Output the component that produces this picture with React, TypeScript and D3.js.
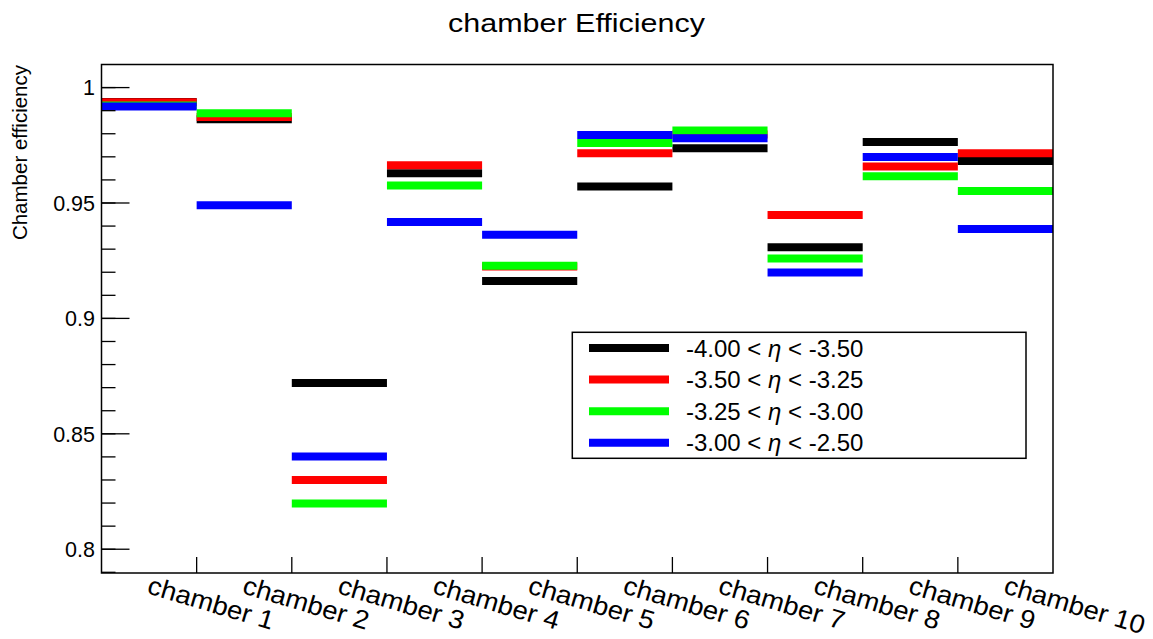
import React from "react";
import * as d3 from "d3";

const categories = ["chamber 1","chamber 2","chamber 3","chamber 4","chamber 5","chamber 6","chamber 7","chamber 8","chamber 9","chamber 10"];
const seriesNames = ["-4.00 < ", "-3.50 < ", "-3.25 < ", "-3.00 < "];
const seriesTails = [" < -3.50", " < -3.25", " < -3.00", " < -2.50"];
const seriesColors = ["#000000", "#ff0000", "#00ff00", "#0000ff"];
const blackVals = [0.9937, 0.9863, 0.8720, 0.9629, 0.9162, 0.9571, 0.9737, 0.9308, 0.9764, 0.9682];
const redVals = [0.9936, 0.9873, 0.8300, 0.9663, 0.9225, 0.9716, 0.9797, 0.9448, 0.9658, 0.9716];
const greenVals = [0.9922, 0.9889, 0.8198, 0.9576, 0.9228, 0.9760, 0.9814, 0.9259, 0.9616, 0.9552];
const blueVals = [0.9918, 0.9490, 0.8402, 0.9418, 0.9362, 0.9795, 0.9781, 0.9199, 0.9699, 0.9387];
const majorTicks = [0.8, 0.85, 0.9, 0.95, 1.0];
const tickLabels = ["0.8", "0.85", "0.9", "0.95", "1"];

const W = 1153, H = 639;
const L = 101.5, R = 1053, T = 64.5, B = 573;
const FONT = "'Liberation Sans', Arial, Helvetica, sans-serif";

export default function App() {
  const x = d3.scaleBand<string>().domain(categories).range([L, R]).paddingInner(0).paddingOuter(0);
  const y = d3.scaleLinear().domain([0.7897, 1.01]).range([B, T]);
  const series = [blackVals, redVals, greenVals, blueVals];
  const minorTicks = d3.range(79, 101).map((v) => v / 100).filter((v) => y(v) <= B && y(v) >= T);
  const bw = x.bandwidth();
  const boundaries = categories.slice(1).map((c) => x(c) as number);

  return (
    <svg width={W} height={H} style={{ position: "absolute", left: 0, top: 0, background: "#fff" }} fontFamily={FONT}>
      <rect x={0} y={0} width={W} height={H} fill="#fff" />
      {/* title */}
      <text transform={`translate(576.5,32) scale(1.22,1)`} textAnchor="middle" fontSize={25} fill="#000">chamber Efficiency</text>
      {/* bars */}
      {series.map((vals, si) => (
        <g key={si}>
          {vals.map((v, i) => (
            <line key={i} x1={x(categories[i]) as number} x2={(x(categories[i]) as number) + bw} y1={y(v)} y2={y(v)} stroke={seriesColors[si]} strokeWidth={8} />
          ))}
        </g>
      ))}
      {/* frame */}
      <rect x={L} y={T} width={R - L} height={B - T} fill="none" stroke="#000" strokeWidth={1.5} />
      {/* y ticks */}
      {minorTicks.map((v, i) => (
        <line key={"m" + i} x1={L} x2={L + 14} y1={y(v)} y2={y(v)} stroke="#000" strokeWidth={1.3} />
      ))}
      {majorTicks.map((v, i) => (
        <g key={"M" + i}>
          <line x1={L} x2={L + 28} y1={y(v)} y2={y(v)} stroke="#000" strokeWidth={1.3} />
          <text x={95} y={y(v)} dy="0.36em" textAnchor="end" fontSize={21.5} fill="#000">{tickLabels[i]}</text>
        </g>
      ))}
      {/* y title */}
      <text transform={`translate(27,65) rotate(-90)`} textAnchor="end" fontSize={20.5} fill="#000">Chamber efficiency</text>
      {/* x ticks */}
      {boundaries.map((bx, i) => (
        <line key={"xt" + i} x1={bx} x2={bx} y1={B} y2={B - 16} stroke="#000" strokeWidth={1.3} />
      ))}
      {/* x labels */}
      {categories.map((c, i) => {
        const cx = (x(c) as number) + bw / 2;
        return (
          <text key={"xl" + i} transform={`translate(${cx - 3},593) rotate(16.5) scale(1.06,1)`} textAnchor="start" fontSize={26} fill="#000">{c}</text>
        );
      })}
      {/* legend */}
      <rect x={572.3} y={332.3} width={1026 - 572.3} height={458.3 - 332.3} fill="#fff" stroke="#000" strokeWidth={1.5} />
      {seriesNames.map((n, i) => {
        const ly = 348 + i * 31.6;
        return (
          <g key={"lg" + i}>
            <line x1={589} x2={669} y1={ly} y2={ly} stroke={seriesColors[i]} strokeWidth={8} />
            <text x={686} y={ly} dy="0.36em" fontSize={24} fill="#000">
              {n}
              <tspan fontStyle="italic">η</tspan>
              {seriesTails[i]}
            </text>
          </g>
        );
      })}
    </svg>
  );
}
